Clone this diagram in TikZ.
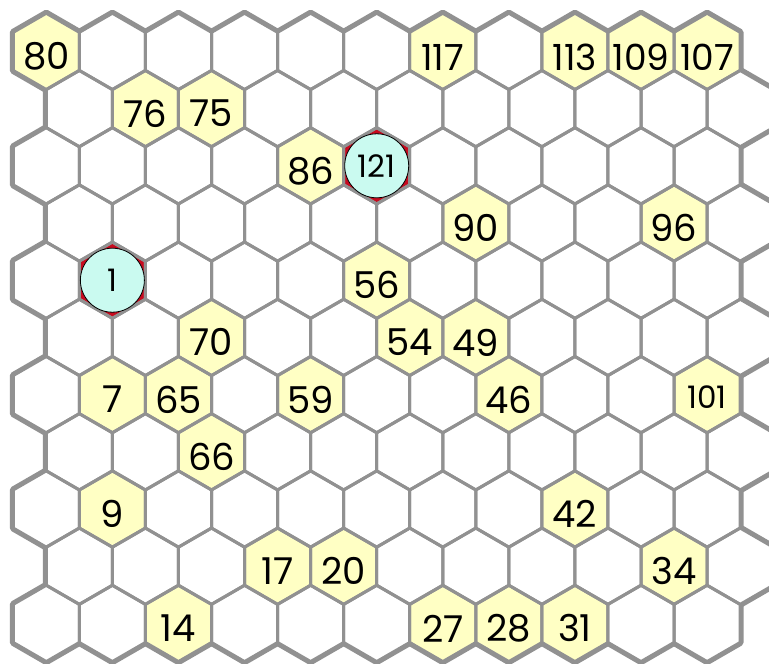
\documentclass[tikz,border=0pt]{standalone}
\usepackage{fontspec}
\setmainfont{Poppins}
\definecolor{gridgray}{RGB}{145,145,145}
\definecolor{cellyellow}{RGB}{255,255,196}
\definecolor{cellcyan}{RGB}{202,250,240}
\definecolor{cellred}{RGB}{200,10,30}
\begin{document}
\begin{tikzpicture}[x=1pt,y=-1pt,
  outerline/.style={draw=gridgray,line width=7pt,line join=round},
  innerline/.style={draw=gridgray,line width=3pt,line join=round},
  numlabel/.style={inner sep=0pt,font=\fontsize{37}{37}\selectfont},
  widelabel/.style={inner sep=0pt,font=\fontsize{36}{36}\selectfont},
  smalllabel/.style={inner sep=0pt,font=\fontsize{31}{31}\selectfont},
  marker/.style={circle,draw=black,line width=0.8pt,fill=cellcyan,minimum size=64pt,inner sep=0pt}]
\useasboundingbox (0,0) rectangle (769,664);
\clip (0,0) rectangle (769,664);
\def\R{38.15}
\def\hexshape{+(90:\R) -- +(30:\R) -- +(-30:\R) -- +(-90:\R) -- +(-150:\R) -- +(150:\R) -- cycle}
% outer thick outlines
\foreach \r in {0,...,10}{
  \foreach \k in {0,...,10}{
    \pgfmathsetmacro\cx{46.3+66.08*\k+mod(\r,2)*33.04}
    \pgfmathsetmacro\cy{51.4+57.2*\r}
    \path[outerline] (\cx,\cy) \hexshape;
  }
}
% white fills
\foreach \r in {0,...,10}{
  \foreach \k in {0,...,10}{
    \pgfmathsetmacro\cx{46.3+66.08*\k+mod(\r,2)*33.04}
    \pgfmathsetmacro\cy{51.4+57.2*\r}
    \fill[white] (\cx,\cy) \hexshape;
  }
}
% yellow cells
\foreach \r/\k in {0/0,0/6,0/8,0/9,0/10,1/1,1/2,2/4,3/6,3/9,4/5,5/2,5/5,5/6,6/1,6/2,6/4,6/7,6/10,7/2,8/1,8/8,9/3,9/4,9/9,10/2,10/6,10/7,10/8}{
    \pgfmathsetmacro\cx{46.3+66.08*\k+mod(\r,2)*33.04}
    \pgfmathsetmacro\cy{51.4+57.2*\r}
    \fill[cellyellow] (\cx,\cy) \hexshape;
}
% red cells
\foreach \r/\k in {2/5,4/1}{
    \pgfmathsetmacro\cx{46.3+66.08*\k+mod(\r,2)*33.04}
    \pgfmathsetmacro\cy{51.4+57.2*\r}
    \fill[cellred] (\cx,\cy) \hexshape;
}
% thin outlines
\foreach \r in {0,...,10}{
  \foreach \k in {0,...,10}{
    \pgfmathsetmacro\cx{46.3+66.08*\k+mod(\r,2)*33.04}
    \pgfmathsetmacro\cy{51.4+57.2*\r}
    \path[innerline] (\cx,\cy) \hexshape;
  }
}
% markers
\node[marker,smalllabel] (m121) at ({46.3+66.08*5},{51.4+57.2*2}) {121};
\node[marker,smalllabel] (m1) at ({46.3+66.08*1},{51.4+57.2*4}) {1};
% labels
\foreach \r/\k/\t in {0/0/80,1/1/76,1/2/75,2/4/86,3/6/90,3/9/96,4/5/56,5/2/70,5/5/54,5/6/49,6/1/7,6/2/65,6/4/59,6/7/46,7/2/66,8/1/9,8/8/42,9/3/17,9/4/20,9/9/34,10/2/14,10/6/27,10/7/28,10/8/31}{
    \pgfmathsetmacro\cx{46.3+66.08*\k+mod(\r,2)*33.04}
    \pgfmathsetmacro\cy{51.4+57.2*\r+5}
    \node[numlabel] (n\t) at (\cx,\cy) {\t};
}
\foreach \r/\k/\t in {0/6/117,0/8/113,0/9/109,0/10/107}{
    \pgfmathsetmacro\cx{46.3+66.08*\k+mod(\r,2)*33.04}
    \pgfmathsetmacro\cy{51.4+57.2*\r+6}
    \node[widelabel] (n\t) at (\cx,\cy) {\t};
}
\node[smalllabel] (n101) at ({46.3+66.08*10},{51.4+57.2*6+3}) {101};
\end{tikzpicture}
\end{document}
